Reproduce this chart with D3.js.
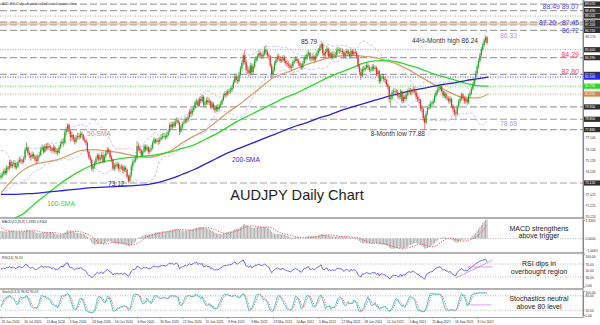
<!DOCTYPE html>
<html><head><meta charset="utf-8">
<script src="https://cdnjs.cloudflare.com/ajax/libs/d3/7.8.5/d3.min.js"></script>
<style>html,body{margin:0;padding:0;background:#fff;}svg{display:block;font-family:"Liberation Sans",Arial,sans-serif;}</style>
</head><body><svg id="c" width="600" height="325"></svg>
<script>
// ---------- DATA ----------
// closes before the first visible bar (only used to warm up the indicators)
const preCloses = [69.8,68.5, 68.3,68.8,68.6,68.8,69.8, 69.9,69.3,68.7,68.4,68.5, 69.9,70.2,70.6,70.3,70.4,
 70.6,71.5,71.5,71.6,71.8, 73.0,73.7,75.0,75.3,75.8, 76.0,75.6,75.0,73.0,73.5, 74.0,74.1,73.8,73.4,73.2, 73.5,74.3,73.3,73.6];
// daily closes, 26 Jun 2020 ... Oct 2021
const closes = [73.80,
73.90,74.20,74.00,74.50,74.40, 75.00,74.60,74.80,74.90,74.50, 74.60,75.00,75.20,75.10,75.00, 75.30,76.10,76.30,75.80,75.60,
75.40,75.70,75.50,75.20,75.10, 75.50,75.60,76.10,76.30,75.90, 76.40,76.20,76.40,76.30,76.20, 76.00,76.30,75.90,76.00,75.80,
76.30,76.60,76.80,76.70,77.60, 77.90,78.30,77.70,77.20,77.40, 77.00,76.80,77.20,77.30,77.20, 77.50,77.40,77.00,76.90,76.70,
75.90,75.40,75.20,74.40,74.60, 74.90,75.30,75.60,75.20,75.40, 75.60,75.00,75.50,75.80,76.10, 75.90,75.40,75.20,74.40,74.70,
74.60,74.80,74.40,74.50,74.60, 74.20,74.50,74.30,73.70,73.30, 73.80,74.60,75.00,75.10,75.30, 76.40,76.20,76.00,75.60,75.90,
76.40,76.10,76.30,75.90,76.10, 76.20,76.70,77.00,76.80,76.90, 76.80,77.00,77.20,77.30,77.30, 77.20,77.40,77.70,78.30,78.10,
78.40,78.20,78.60,78.70,78.50, 77.70,78.10,78.40,78.50, 78.80,78.70,79.00,79.50, 79.30,79.60,79.80,80.30,80.40,
80.00,80.60,80.40,80.80,80.10, 80.20,80.50,80.30,80.40,79.90, 80.20,79.80,79.60,79.90,79.70, 80.00,80.20,80.50,80.90,81.10,
81.00,81.30,81.30,81.40,81.60, 82.10,82.60,82.30,82.20,82.80, 83.30,83.80,84.50,83.90,83.20, 83.20,82.90,83.60,83.00,83.50,
84.00,84.20,84.40,84.70,84.50, 84.40,84.60,85.00,84.80,84.50, 84.40,83.60,82.80,83.20,83.80, 84.10,84.40,84.20,84.00,84.10,
84.30,84.00,83.80,83.70,83.60, 83.40,83.50,83.90,84.00,84.20, 84.00,83.80,83.60,83.40,83.80, 84.30,84.20,84.60,84.70,84.20,
84.20,84.40,84.10,84.40,84.70, 84.90,85.20,85.50,84.70,84.50, 84.80,85.10,84.40,84.70,84.30, 84.60,84.50,84.50,85.00,85.00,
84.90,84.90,84.80,84.40,84.70, 84.90,84.60,84.40,84.90,84.60, 84.80,84.70,84.40,83.50,83.00, 82.70,83.30,83.20,83.40,83.60,
83.40,83.20,83.20,83.50,83.30, 83.40,82.80,83.10,82.20,82.60, 82.60,82.40,82.30,81.90,81.70, 80.60,80.70,81.20,81.30,81.30,
81.20,80.90,80.80,81.30,80.40, 80.80,80.60,81.00,81.20,81.40, 81.20,81.30,81.50,81.20,80.80, 80.60,80.50,79.80,79.70,78.90,
78.50,79.30,79.80,79.90,80.20, 80.20,80.40,80.90,81.20,81.40, 81.50,81.70,81.30,80.90,81.10, 80.70,80.70,80.40,80.60,80.00,
79.70,79.40,79.30,79.90,80.40, 80.60,81.00,80.70,80.40,80.60, 80.30,80.90,81.10,81.50,81.90, 82.30,82.90,83.50,84.00,84.50,
85.00,85.40,85.80,86.10,85.60];
const highs = [74.05,
74.15,74.40,74.45,74.70,74.65, 75.20,75.15,75.00,75.15,75.05, 74.95,75.15,75.45,75.40,75.30, 75.50,76.30,76.75,76.40,75.95,
75.80,75.95,75.85,75.65,75.60, 75.70,75.90,76.30,76.55,76.40, 76.60,76.65,76.70,76.60,76.50, 76.35,76.55,76.45,76.25,76.20,
76.50,76.80,77.05,77.15,77.80, 78.10,78.45,78.40,77.85,77.70, 77.50,77.25,77.40,77.60,77.55, 77.75,77.70,77.55,77.25,77.10,
76.80,76.05,75.65,75.30,74.80, 75.10,75.50,75.80,75.75,75.65, 75.85,75.90,75.70,76.00,76.35, 76.25,76.05,75.60,75.30,74.90,
74.95,75.05,74.95,74.75,74.85, 74.75,74.70,74.65,74.40,73.85, 74.00,74.80,75.25,75.45,75.60, 76.85,76.70,76.45,76.15,76.10,
76.60,76.55,76.55,76.40,76.30, 76.50,76.90,77.20,77.10,77.10, 77.15,77.25,77.45,77.55,77.60, 77.50,77.65,77.90,78.50,78.55,
78.60,78.55,78.85,78.95,78.90, 78.60,78.30,78.60,78.70, 79.05,79.00,79.25,79.70, 79.80,79.85,80.05,80.50,80.65,
80.55,80.80,80.85,81.00,80.95, 80.45,80.75,80.80,80.70,80.55, 80.40,80.35,80.05,80.10,80.15, 80.20,80.45,80.70,81.10,81.30,
81.35,81.50,81.55,81.65,81.85, 82.30,82.85,82.80,82.60,83.00, 83.55,84.05,84.70,85.00,84.10, 83.60,83.45,83.85,83.80,83.75,
84.25,84.45,84.65,84.95,84.90, 84.75,84.90,85.25,85.40,85.00, 84.75,84.55,83.75,83.45,84.00, 84.35,84.60,84.65,84.45,84.30,
84.55,84.50,84.20,84.05,83.95, 83.80,83.75,84.10,84.25,84.45, 84.40,84.20,84.00,83.80,84.00, 84.50,84.55,84.85,84.95,84.85,
84.45,84.65,84.55,84.65,84.95, 85.15,85.45,85.79,85.60,84.90, 85.05,85.35,85.20,84.95,84.85, 84.85,84.85,84.80,85.20,85.25,
85.20,85.15,85.10,84.95,84.90, 85.10,85.05,84.80,85.10,85.05, 85.00,85.05,84.90,84.55,83.70, 83.20,83.50,83.55,83.65,83.85,
83.80,83.60,83.45,83.70,83.75, 83.60,83.55,83.30,83.20,82.80, 82.90,82.85,82.60,82.45,82.05, 81.80,80.95,81.40,81.55,81.60,
81.50,81.40,81.15,81.50,81.40, 81.00,81.00,81.20,81.45,81.65, 81.60,81.55,81.75,81.70,81.35, 81.00,80.85,80.65,80.05,79.85,
79.10,79.55,80.00,80.15,80.45, 80.45,80.65,81.10,81.40,81.65, 81.75,81.90,81.80,81.45,81.30, 81.25,80.95,80.90,80.85,80.75,
80.15,79.90,79.60,80.10,80.60, 80.85,81.20,81.15,80.90,80.85, 80.75,81.10,81.35,81.70,82.10, 82.55,83.10,83.70,84.25,84.70,
85.25,85.65,86.00,86.20,86.24];
const lows = [73.35,
73.55,73.75,73.80,73.85,74.20, 74.30,74.45,74.40,74.60,74.35, 74.30,74.45,74.90,74.85,74.80, 74.85,75.20,75.95,75.60,75.30,
75.10,75.25,75.30,74.95,74.80, 74.95,75.30,75.50,75.95,75.70, 75.80,76.00,76.05,76.05,75.95, 75.75,75.85,75.70,75.65,75.55,
75.70,76.15,76.45,76.35,76.55, 77.40,77.70,77.50,76.80,76.90, 76.80,76.55,76.65,77.00,76.95, 77.05,77.15,76.85,76.70,76.45,
75.70,75.20,74.90,74.20,74.10, 74.40,74.75,75.10,74.95,74.85, 75.20,74.85,74.90,75.35,75.65, 75.70,75.25,74.95,74.25,74.20,
74.35,74.40,74.20,74.15,74.30, 74.00,74.05,74.05,73.50,73.12, 73.20,73.65,74.20,74.80,74.95, 75.20,75.95,75.80,75.40,75.45,
75.80,75.90,75.95,75.70,75.70, 75.90,76.10,76.55,76.60,76.65, 76.50,76.60,76.90,77.00,77.05, 76.95,77.05,77.25,77.60,77.90,
77.95,78.00,78.05,78.40,78.30, 77.40,77.55,77.95,78.25, 78.40,78.45,78.55,78.85, 79.00,79.10,79.45,79.70,80.05,
79.80,79.90,80.20,80.30,79.90, 79.85,80.05,80.10,80.05,79.70, 79.70,79.60,79.35,79.45,79.45, 79.55,79.85,80.05,80.40,80.70,
80.75,80.85,81.05,81.10,81.20, 81.50,81.95,82.10,81.95,82.05, 82.65,83.10,83.60,83.70,82.90, 82.85,82.60,82.75,82.70,82.80,
83.30,83.80,84.00,84.25,84.25, 84.15,84.20,84.45,84.55,84.25, 84.10,83.40,82.45,82.60,83.05, 83.60,83.90,84.00,83.80,83.85,
83.90,83.80,83.55,83.45,83.35, 83.20,83.15,83.35,83.70,83.85, 83.80,83.55,83.40,83.20,83.25, 83.70,84.00,84.05,84.40,84.00,
83.95,84.00,83.85,83.95,84.25, 84.55,84.75,85.00,84.45,84.25, 84.30,84.65,84.20,84.25,84.10, 84.15,84.30,84.25,84.40,84.75,
84.65,84.65,84.55,84.20,84.25, 84.55,84.40,84.20,84.30,84.40, 84.45,84.50,84.20,83.30,82.70, 82.30,82.55,83.00,83.05,83.25,
83.20,83.00,82.95,83.05,83.10, 83.15,82.60,82.65,81.95,82.00, 82.35,82.20,82.05,81.70,81.45, 80.30,80.00,80.50,80.95,81.05,
80.95,80.65,80.55,80.60,80.20, 80.25,80.35,80.45,80.85,81.00, 80.95,81.00,81.10,81.00,80.55, 80.35,80.20,79.55,79.40,78.60,
77.88,78.35,79.15,79.60,79.70, 79.95,80.00,80.25,80.70,81.00, 81.20,81.30,81.10,80.70,80.70, 80.50,80.45,80.20,80.20,79.80,
79.40,79.10,78.85,79.10,79.75, 80.20,80.45,80.50,80.15,80.20, 80.05,80.15,80.70,80.95,81.35, 81.75,82.15,82.70,83.30,83.85,
84.35,84.85,85.25,85.60,85.45];
// moving averages, one value every 8 bars (bar 0, 8, 16 ...)
const sma50 = [72.2,73.4,74.3,74.8,75.0,75.2,75.6,76.0,76.1,76.0,75.9,75.7,75.5,75.4,75.6,76.0,76.7,77.3,77.8,78.6,79.4,80.1,80.9,81.7,82.5,82.9,83.3,83.7,84.0,84.3,84.45,84.5,84.4,84.3,84.0,83.7,83.2,82.6,82.0,81.5,81.0,80.7,80.7,81.05];
const sma100 = [69.6,69.9,70.4,71.3,72.1,72.9,73.6,74.2,74.7,75.0,75.2,75.35,75.45,75.55,75.7,75.9,76.2,76.5,77.0,77.5,78.1,78.7,79.2,79.7,80.2,80.7,81.1,81.6,82.1,82.6,83.0,83.4,83.8,84.0,84.05,83.9,83.6,83.3,82.9,82.6,82.3,82.0,81.8,81.75];
const sma200 = [72.1,72.1,72.15,72.2,72.3,72.4,72.5,72.6,72.7,72.75,72.8,72.85,72.9,73.0,73.2,73.5,73.9,74.3,74.8,75.3,75.8,76.2,76.6,77.0,77.4,77.8,78.2,78.5,78.9,79.2,79.6,79.9,80.2,80.5,80.8,81.05,81.3,81.5,81.7,81.9,82.05,82.25,82.4,82.56];
const smaStep = 8;
// horizontal levels
const dashedLevels = [89.07, 88.49, 87.45, 87.20, 86.72, 84.29, 82.80, 79.90, 78.80, 77.88, 73.12];
const dottedLevels = [88.00, 85.00];
const smaLevels = [82.56, 81.75, 81.05];      // 200, 100, 50 SMA
const zoneLevels = [87.20, 87.45];
const priceTicks = [89.180,88.180,87.175,86.170,85.170,84.165,83.160,82.160,81.155,80.150,79.150,78.145,77.140,76.140,75.135,74.135,73.130,72.125,71.125,70.120];
const dateLabels = ["26 Jun 2020","20 Jul 2020","11 Aug 2020","3 Sep 2020","24 Sep 2020","16 Oct 2020","6 Nov 2020","30 Nov 2020","22 Dec 2020","15 Jan 2021","8 Feb 2021","3 Mar 2021","23 Mar 2021","14 Apr 2021","5 May 2021","27 May 2021","18 Jun 2021","12 Jul 2021","3 Aug 2021","25 Aug 2021","16 Sep 2021","8 Oct 2021"];
const dateStep = 16;
const macdTicks = [1.3305, 0, -1.0063];
const rsiTicks = [100, 70, 50, 30, 0];
const stochTicks = [100, 80, 20, 0];
const rsiTrendUp = [[321, 27], [347, 82]];
const rsiFlat = [[329, 61], [347, 61]];
const stochFlat = [[329, 42], [346, 42]];

// ---------- SETUP ----------
const svg = d3.select('#c');
const PR = 583;
const N = closes.length;
const x = d3.scaleLinear().domain([0, N - 1]).range([1, 487]);
const y = d3.scaleLinear().domain([70.0, 89.43]).range([218, 0]);
const yM = d3.scaleLinear().domain([-1.0063, 1.3305]).range([252.6, 220]);
const yR = d3.scaleLinear().domain([0, 100]).range([286.7, 254.3]);
const yS = d3.scaleLinear().domain([0, 100]).range([315, 291]);
const defs = svg.append('defs');
function clip(id, y0, h) { defs.append('clipPath').attr('id', id).append('rect').attr('x', 0).attr('y', y0).attr('width', PR).attr('height', h); }
clip('cm', 0, 218); clip('cmacd', 218, 35); clip('crsi', 253, 36); clip('cst', 289, 28);

// ---------- INDICATORS ----------
const all = preCloses.concat(closes);
const allH = preCloses.concat(highs), allL = preCloses.concat(lows);
const P = preCloses.length;
function ema(arr, n) { const k = 2 / (n + 1); let e = arr[0]; return arr.map((v, i) => (e = i === 0 ? v : v * k + e * (1 - k))); }
const e12 = ema(all, 12), e26 = ema(all, 26);
const macdAll = all.map((v, i) => e12[i] - e26[i]);
const sigAll = macdAll.map((v, i) => d3.mean(macdAll.slice(Math.max(0, i - 8), i + 1)));
const rsiAll = [];
let ag = 0, al = 0;
for (let i = 1; i < all.length; i++) {
  const d = all[i] - all[i - 1], g = Math.max(d, 0), l = Math.max(-d, 0);
  if (i <= 14) { ag += g / 14; al += l / 14; } else { ag = (ag * 13 + g) / 14; al = (al * 13 + l) / 14; }
  rsiAll[i] = al === 0 ? 100 : 100 - 100 / (1 + ag / al);
}
const num = [], den = [];
for (let i = 0; i < all.length; i++) {
  const lo = d3.min(allL.slice(Math.max(0, i - 4), i + 1)), hi = d3.max(allH.slice(Math.max(0, i - 4), i + 1));
  num[i] = all[i] - lo; den[i] = hi - lo;
}
const stK = [], stD = [];
for (let i = 0; i < all.length; i++) {
  const a = d3.sum(num.slice(Math.max(0, i - 2), i + 1)), b = d3.sum(den.slice(Math.max(0, i - 2), i + 1));
  stK[i] = b === 0 ? 50 : 100 * a / b;
  stD[i] = d3.mean(stK.slice(Math.max(0, i - 2), i + 1));
}
const bb = closes.map((c, i) => {
  const w = all.slice(P + i - 19, P + i + 1), m = d3.mean(w), sd = Math.sqrt(d3.mean(w.map(v => (v - m) * (v - m))));
  return { up: m + 2 * sd, lo: m - 2 * sd };
});
const idx = d3.range(N);

// ---------- MAIN PANEL ----------
const gm = svg.append('g').attr('clip-path', 'url(#cm)');
gm.append('rect').attr('x', 0).attr('width', PR).attr('y', y(zoneLevels[1])).attr('height', y(zoneLevels[0]) - y(zoneLevels[1])).attr('fill', '#f9d3ad');
gm.selectAll('.dl').data(dashedLevels).join('line').attr('x1', 0).attr('x2', PR).attr('y1', d => y(d)).attr('y2', d => y(d))
  .attr('stroke', '#a3a3a3').attr('stroke-width', 1.2).attr('stroke-dasharray', '7,3');
gm.selectAll('.dt').data(dottedLevels).join('line').attr('x1', 0).attr('x2', PR).attr('y1', d => y(d)).attr('y2', d => y(d))
  .attr('stroke', '#a8a8a8').attr('stroke-width', 1).attr('stroke-dasharray', '1,1.5');
const smaCol = ['#3a3aff', '#3ad83a', '#e0a068'];
gm.selectAll('.sl').data(smaLevels).join('line').attr('x1', 0).attr('x2', PR).attr('y1', d => y(d)).attr('y2', d => y(d))
  .attr('stroke', (d, i) => smaCol[i]).attr('stroke-width', 0.9).attr('stroke-dasharray', '1,1.5');
// Bollinger bands
['up', 'lo'].forEach(k => {
  gm.append('path').datum(idx).attr('fill', 'none').attr('stroke', '#b0b0f2').attr('stroke-width', 0.7).attr('stroke-dasharray', '3,1.5')
    .attr('d', d3.line().x(i => x(i)).y(i => y(bb[i][k])));
});
// SMAs
const smaLine = d3.line().x((d, k) => x(k * smaStep)).y(d => y(d)).curve(d3.curveMonotoneX);
[[sma50, '#d6a06c'], [sma100, '#2fd82f'], [sma200, '#2424d6']].forEach(([arr, col]) => {
  gm.append('path').datum(arr).attr('fill', 'none').attr('stroke', col).attr('stroke-width', 1.3).attr('d', smaLine);
});
// candles
const opens = idx.map(i => i === 0 ? preCloses[P - 1] : closes[i - 1]);
const cg = gm.append('g');
cg.selectAll('line').data(idx).join('line')
  .attr('x1', i => x(i)).attr('x2', i => x(i))
  .attr('y1', i => y(Math.max(highs[i], opens[i], closes[i]))).attr('y2', i => y(Math.min(lows[i], opens[i], closes[i])))
  .attr('stroke', i => closes[i] >= opens[i] ? '#1f9a1f' : '#e32626').attr('stroke-width', 0.6);
cg.selectAll('rect').data(idx).join('rect')
  .attr('x', i => x(i) - 0.6).attr('width', 1.2)
  .attr('y', i => y(Math.max(opens[i], closes[i])))
  .attr('height', i => Math.max(0.7, Math.abs(y(opens[i]) - y(closes[i]))))
  .attr('fill', i => closes[i] >= opens[i] ? '#22a822' : '#ee2a2a');

// annotations
function txt(t, xx, yy, size, col, anchor) {
  return svg.append('text').text(t).attr('x', xx).attr('y', yy).attr('font-size', size).attr('fill', col).attr('text-anchor', anchor || 'start');
}
txt('AUDJPY, Daily - Australian Dollar vs Japanese Yen', 2, 5.2, 3.3, '#555');
txt('85.79', x(226) - 4, y(85.79) + 3.4, 6.5, '#333', 'end');
txt('44½-Month high 86.24', 412, 42.5, 6.6, '#333');
txt('86.33', 500, 37.5, 6.8, '#a0a0ff');
txt('88.49  89.07', 579, 9.3, 6.9, '#4a4af0', 'end');
txt('87.20 - 87.45', 579, 25.1, 6.8, '#4a4af0', 'end');
txt('86.72', 579, 33.3, 6.8, '#4a4af0', 'end');
txt('84.29', 579, 57, 7, '#ff4545', 'end');
txt('82.80', 579, 73.7, 7, '#ff4545', 'end');
txt('78.69', 500, 126, 6.8, '#a0a0ff');
txt('8-Month low 77.88', 425, 136, 6.6, '#333', 'end');
txt('73.12', 108, 186, 6.6, '#333');
txt('50-SMA', 87, 136, 6.6, '#d09a62');
txt('100-SMA', 47, 206, 6.7, '#2fd82f');
txt('200-SMA', 232, 162, 6.7, '#3030e0');
txt('AUDJPY Daily Chart', 297, 200, 14.6, '#222', 'middle');

// ---------- MACD ----------
const gmacd = svg.append('g').attr('clip-path', 'url(#cmacd)');
gmacd.append('line').attr('x1', 0).attr('x2', PR).attr('y1', yM(0)).attr('y2', yM(0)).attr('stroke', '#aaa').attr('stroke-dasharray', '1,1.5').attr('stroke-width', 0.8);
gmacd.selectAll('rect').data(idx).join('rect')
  .attr('x', i => x(i) - 0.45).attr('width', 0.9)
  .attr('y', i => Math.min(yM(0), yM(macdAll[P + i])))
  .attr('height', i => Math.abs(yM(macdAll[P + i]) - yM(0)))
  .attr('fill', '#a8a8a8');
gmacd.append('path').datum(idx).attr('fill', 'none').attr('stroke', '#f24a4a').attr('stroke-width', 0.9).attr('stroke-dasharray', '1.3,1.3')
  .attr('d', d3.line().x(i => x(i)).y(i => yM(sigAll[P + i])));
txt('MACD(12,26,9) 1.3335 0.9004', 2, 222.8, 3.3, '#333');
txt('MACD strengthens', 539, 230.6, 7, '#222', 'middle');
txt('above trigger', 539, 238.2, 7, '#222', 'middle');

// ---------- RSI ----------
const grsi = svg.append('g').attr('clip-path', 'url(#crsi)');
[70, 30].forEach(v => grsi.append('line').attr('x1', 0).attr('x2', PR).attr('y1', yR(v)).attr('y2', yR(v)).attr('stroke', '#aaa').attr('stroke-dasharray', '1,1.5').attr('stroke-width', 0.8));
grsi.append('path').datum(idx).attr('fill', 'none').attr('stroke', '#5858f4').attr('stroke-width', 0.9)
  .attr('d', d3.line().x(i => x(i)).y(i => yR(rsiAll[P + i])));
[rsiTrendUp, rsiFlat].forEach(seg => grsi.append('path').datum(seg).attr('fill', 'none').attr('stroke', '#d48ef0').attr('stroke-width', 0.9)
  .attr('d', d3.line().x(d => x(d[0])).y(d => yR(d[1]))));
txt('RSI(14) 76.20', 2, 259, 3.3, '#333');
txt('RSI dips in', 539, 266.4, 7, '#222', 'middle');
txt('overbought region', 539, 274.2, 7, '#222', 'middle');

// ---------- STOCH ----------
const gst = svg.append('g').attr('clip-path', 'url(#cst)');
[80, 20].forEach(v => gst.append('line').attr('x1', 0).attr('x2', PR).attr('y1', yS(v)).attr('y2', yS(v)).attr('stroke', '#aaa').attr('stroke-dasharray', '1,1.5').attr('stroke-width', 0.8));
gst.append('path').datum(idx).attr('fill', 'none').attr('stroke', '#f25a5a').attr('stroke-width', 0.9).attr('stroke-dasharray', '1.3,1.3')
  .attr('d', d3.line().x(i => x(i)).y(i => yS(stD[P + i])));
gst.append('path').datum(idx).attr('fill', 'none').attr('stroke', '#3cc6c6').attr('stroke-width', 0.9)
  .attr('d', d3.line().x(i => x(i)).y(i => yS(stK[P + i])));
gst.append('path').datum(stochFlat).attr('fill', 'none').attr('stroke', '#d48ef0').attr('stroke-width', 0.9)
  .attr('d', d3.line().x(d => x(d[0])).y(d => yS(d[1])));
txt('Stoch(5,3,3) 96.62 90.03', 2, 293.2, 3.3, '#333');
txt('Stochastics neutral', 539, 301.4, 7, '#222', 'middle');
txt('above 80 level', 539, 309.2, 7, '#222', 'middle');

// ---------- FRAMES & AXES ----------
[218, 253, 289].forEach(v => svg.append('line').attr('x1', 0).attr('x2', PR).attr('y1', v).attr('y2', v).attr('stroke', '#9a9a9a').attr('stroke-width', 1.4));
svg.append('line').attr('x1', 0).attr('x2', PR).attr('y1', 317.5).attr('y2', 317.5).attr('stroke', '#888').attr('stroke-width', 0.8);
function styleAxis(g) {
  g.selectAll('text').attr('font-size', 3.3).attr('fill', '#333').attr('font-family', '"Liberation Sans",Arial,sans-serif');
  g.selectAll('line').attr('stroke', '#777').attr('stroke-width', 0.5);
  g.select('.domain').attr('stroke', '#777').attr('stroke-width', 0.8);
}
const tagLevels = dashedLevels.concat(dottedLevels, smaLevels);
const freeTicks = priceTicks.filter(t => tagLevels.every(l => Math.abs(y(t) - y(l)) > 5));
svg.append('g').attr('transform', `translate(${PR},0)`).call(d3.axisRight(y).tickValues(freeTicks).tickSize(1.5).tickPadding(1).tickFormat(d3.format('.3f'))).call(styleAxis);
const am = svg.append('g').attr('transform', `translate(${PR},0)`).call(d3.axisRight(yM).tickValues(macdTicks).tickSize(1.5).tickPadding(1).tickFormat(d3.format('.4f'))).call(styleAxis);
am.selectAll('.tick').filter(d => d < 0).select('text').attr('dy', '-0.2em');
const ar = svg.append('g').attr('transform', `translate(${PR},0)`).call(d3.axisRight(yR).tickValues(rsiTicks).tickSize(1.5).tickPadding(1).tickFormat(d3.format('.2f'))).call(styleAxis);
ar.selectAll('.tick').filter(d => d === 100).select('text').attr('dy', '0.85em');
ar.selectAll('.tick').filter(d => d === 0).select('text').attr('dy', '0.05em');
const as = svg.append('g').attr('transform', `translate(${PR},0)`).call(d3.axisRight(yS).tickValues(stochTicks).tickSize(1.5).tickPadding(1).tickFormat(d3.format('.2f'))).call(styleAxis);
as.selectAll('.tick').filter(d => d === 100).select('text').attr('dy', '0.7em');
as.selectAll('.tick').filter(d => d === 0).select('text').attr('dy', '0.5em');
svg.append('line').attr('x1', PR).attr('x2', PR).attr('y1', 0).attr('y2', 318).attr('stroke', '#777').attr('stroke-width', 0.8);
// price tags
const tagData = dashedLevels.concat(dottedLevels).map(v => ({ v, c: '#303030' })).concat(smaLevels.map((v, i) => ({ v, c: ['#2222ee', '#22dd22', '#d08a48'][i] })));
const tg = svg.selectAll('.tag').data(tagData).join('g').attr('transform', d => `translate(${PR + 1},${y(d.v)})`);
tg.append('rect').attr('x', 0).attr('y', -2.6).attr('width', 16).attr('height', 5.2).attr('fill', d => d.c);
tg.append('text').attr('x', 1).attr('y', 1.2).attr('font-size', 3.3).attr('fill', '#fff').text(d => d.v.toFixed(3));
// date axis
const xa = svg.append('g').attr('transform', 'translate(0,317.5)')
  .call(d3.axisBottom(x).tickValues(dateLabels.map((d, k) => k * dateStep)).tickSize(1.5).tickPadding(1).tickFormat((d, k) => dateLabels[k]));
xa.call(styleAxis);
xa.select('.domain').remove();
xa.selectAll('text').attr('text-anchor', 'start').attr('dy', '0.9em');
</script></body></html>
